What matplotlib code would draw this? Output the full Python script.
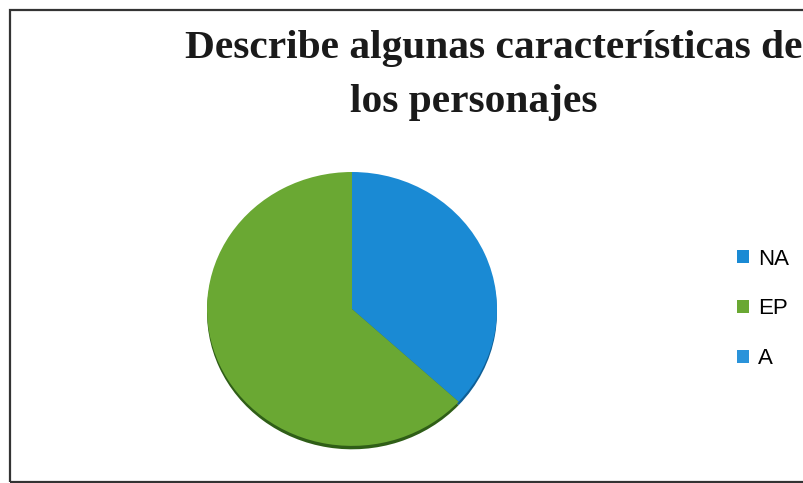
import matplotlib
matplotlib.use("Agg")
import matplotlib.pyplot as plt
from matplotlib.patches import Rectangle

# data
labels = ["NA", "EP", "A"]
values = [7, 12, 0]
colors = ["#1a8ad4", "#6aa833", "#2a93da"]
shadow_colors = ["#0f5f96", "#2f5e17", "#0f5f96"]

W, H = 804, 483
fig = plt.figure(figsize=(W / 100, H / 100), dpi=100)

# chart frame (only left/top edges show in the scan)
fig.patches.append(Rectangle((10 / W, 1 / H), 1.2, (H - 11) / H, transform=fig.transFigure,
                             fill=False, edgecolor="#333333", linewidth=1.6))

# pie
cx, cy, rx, ry = 352, 311, 145, 139
ax = fig.add_axes([(cx - rx) / W, 1 - (cy + ry) / H, 2 * rx / W, 2 * ry / H])
ax.pie(values, colors=shadow_colors, startangle=90, counterclock=False,
       center=(0, -0.025), radius=1.0)
wedges, _ = ax.pie(values, colors=colors, startangle=90, counterclock=False,
                   wedgeprops=dict(linewidth=0))
ax.set_aspect("auto")
ax.set_xlim(-1.0, 1.0)
ax.set_ylim(-1.03, 1.0)

# title (two lines)
fig.text(185 / W, 1 - 58 / H, "Describe algunas características de",
         fontsize=29.8, fontweight="bold", family="Liberation Serif", color="#1a1a1a",
         ha="left", va="baseline")
fig.text(474 / W, 1 - 112 / H, "los personajes",
         fontsize=29.8, fontweight="bold", family="Liberation Serif", color="#1a1a1a",
         ha="center", va="baseline")

# legend
fig.legend(wedges, labels, loc="center left", bbox_to_anchor=(717 / W, 1 - 309 / H),
           frameon=False, handlelength=0.55, handleheight=0.55, handletextpad=0.4,
           labelspacing=1.3, prop=dict(family="Liberation Sans", size=16))

fig.savefig("out.png", dpi=100)
